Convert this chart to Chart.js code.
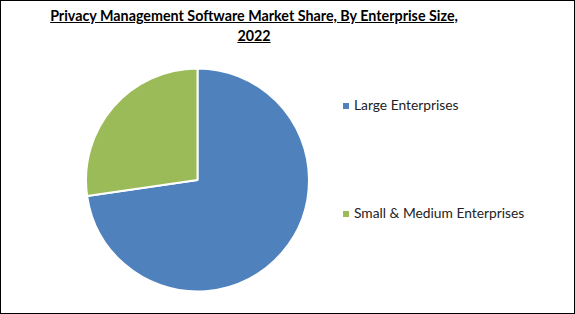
<!DOCTYPE html>
<html>
<head>
<meta charset="utf-8">
<script src="https://cdn.jsdelivr.net/npm/chart.js@4"></script>
<style>
  html, body { margin: 0; padding: 0; background: #fff; }
  #frame { position: relative; width: 573px; height: 312px; border: 1px solid #000; background: #fff; overflow: hidden; }
  #title { position: absolute; left: 0; top: 5px; width: 506px; text-align: center; font-family: Lato, "Open Sans", sans-serif; font-weight: bold; font-size: 14.3px; line-height: 20px; text-decoration: underline; color: #000; }
  #pieWrap { position: absolute; left: 84px; top: 66px; width: 225px; height: 226px; }
  .leg { position: absolute; left: 342px; font-family: Lato, "Open Sans", sans-serif; font-size: 13.8px; color: #222; white-space: nowrap; }
  .leg span.box { display: inline-block; width: 6px; height: 6px; margin-right: 5px; vertical-align: 1px; }
</style>
</head>
<body>
<div id="frame">
  <div id="title">Privacy Management Software Market Share, By Enterprise Size,<br>2022</div>
  <div id="pieWrap"><canvas id="c"></canvas></div>
  <div id="legend"></div>
</div>
<script>
const categories = ["Large Enterprises", "Small & Medium Enterprises"];
const shares = [72.7, 27.3];
const colors = ["#4F81BD", "#9BBB59"];
const legendTops = [95, 203];

const legend = document.getElementById('legend');
categories.forEach((c, i) => {
  const d = document.createElement('div');
  d.className = 'leg';
  d.style.top = legendTops[i] + 'px';
  d.innerHTML = '<span class="box" style="background:' + colors[i] + '"></span>';
  d.appendChild(document.createTextNode(c));
  legend.appendChild(d);
});

new Chart(document.getElementById('c'), {
  type: 'pie',
  data: {
    labels: categories,
    datasets: [{ data: shares, backgroundColor: colors, borderColor: '#fff', borderWidth: 2 }]
  },
  options: {
    responsive: true,
    maintainAspectRatio: false,
    animation: false,
    layout: { padding: 0 },
    plugins: { legend: { display: false }, tooltip: { enabled: false }, title: { display: false } }
  }
});
</script>
</body>
</html>
